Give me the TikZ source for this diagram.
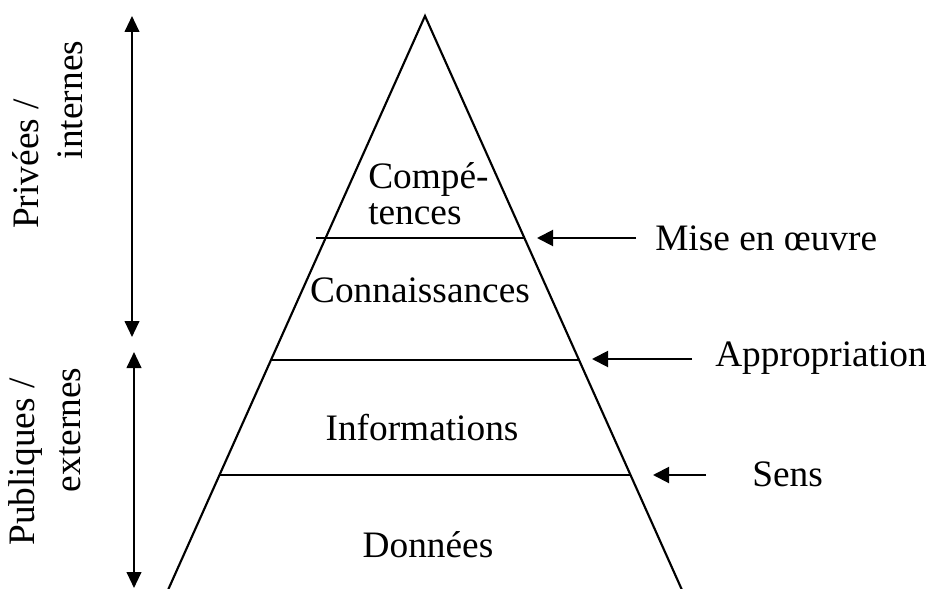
\documentclass[tikz,border=0pt]{standalone}
\usepackage{fontspec}
\setmainfont{Liberation Serif}
\usetikzlibrary{arrows.meta}
\begin{document}
\begin{tikzpicture}[x=0.75pt,y=-0.75pt,
  lbl/.style={inner sep=0pt,font=\fontsize{28}{27}\selectfont},
  edge/.style={line width=1.6pt,line join=miter},
  level/.style={line width=1.4pt},
  pointer/.style={line width=1.5pt,-{Triangle[length=12pt,width=12pt]}},
  span/.style={line width=1.5pt,{Triangle[length=12pt,width=11pt]}-{Triangle[length=12pt,width=11pt]}}]
\useasboundingbox (0,0) rectangle (930,588);

% pyramid outline
\coordinate (apex) at (425,16);
\coordinate (bl) at (168,590);
\coordinate (br) at (682,590);
\draw[edge] (bl) -- (apex) -- (br);

% level boundaries
\coordinate (l1a) at (316,238); \coordinate (l1b) at (524,238);
\coordinate (l2a) at (271,360); \coordinate (l2b) at (579,360);
\coordinate (l3a) at (220,475); \coordinate (l3b) at (630,475);
\draw[level] (l1a) -- (l1b);
\draw[level] (l2a) -- (l2b);
\draw[level] (l3a) -- (l3b);

% level names
\node[lbl,align=left,anchor=west] (comp) at (368,194) {Compé-\\tences};
\node[lbl] (conn) at (420,290) {Connaissances};
\node[lbl] (info) at (422,428) {Informations};
\node[lbl] (donn) at (428,545) {Données};

% transitions on the right
\node[lbl,anchor=west] (mise) at (655,238) {Mise en œuvre};
\node[lbl,anchor=west] (appr) at (715,358) {Appropriation};
\node[lbl,anchor=west] (sens) at (752,474) {Sens};
\coordinate (t1) at (636,238); \coordinate (h1) at (537,238);
\coordinate (t2) at (692,359); \coordinate (h2) at (592,359);
\coordinate (t3) at (706,475); \coordinate (h3) at (653,475);
\draw[pointer] (t1) -- (h1);
\draw[pointer] (t2) -- (h2);
\draw[pointer] (t3) -- (h3);

% scope on the left
\coordinate (p1) at (132,16); \coordinate (p2) at (132,337);
\coordinate (q1) at (134,352); \coordinate (q2) at (134,588);
\draw[span] (p1) -- (p2);
\draw[span] (q1) -- (q2);
\node[lbl,rotate=90] (priv) at (26,164) {Privées /};
\node[lbl,rotate=90] (intr) at (70,100) {internes};
\node[lbl,rotate=90] (publ) at (26,462) {Publiques /};
\node[lbl,rotate=90] (extr) at (70,430) {externes};
\end{tikzpicture}
\end{document}
